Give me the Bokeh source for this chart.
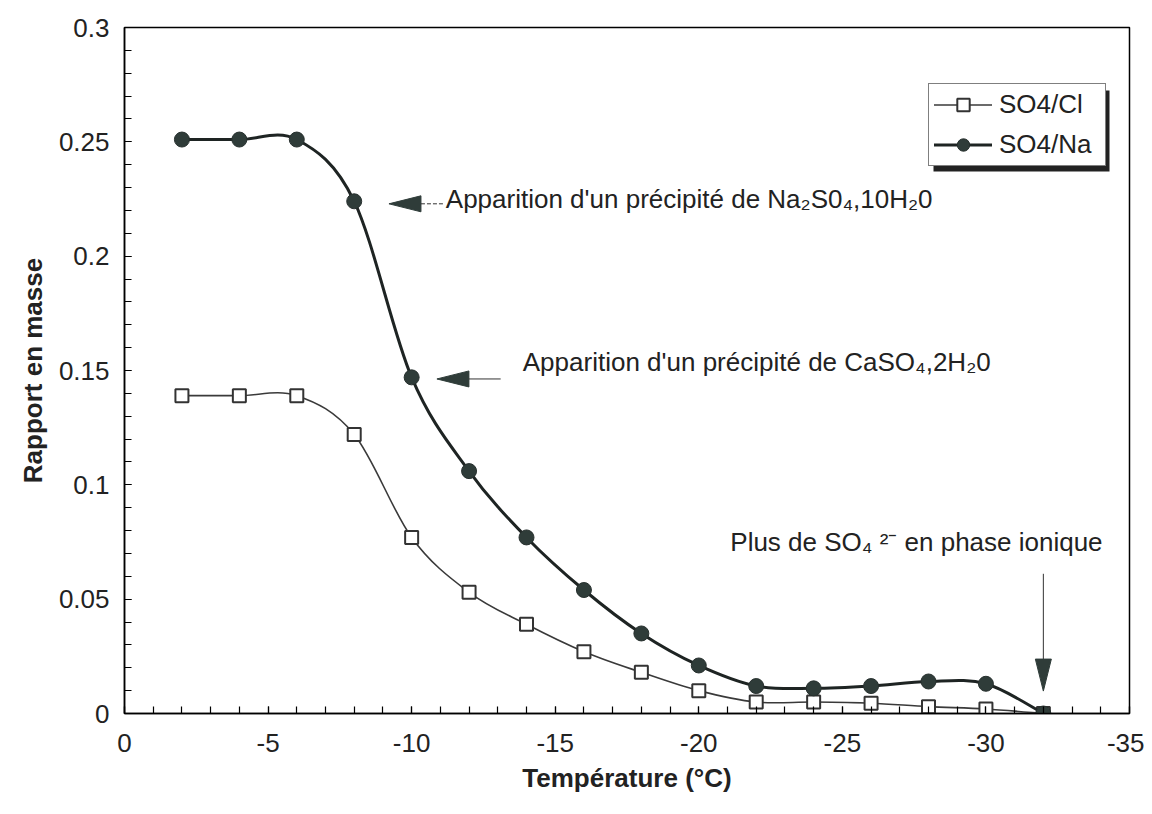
from bokeh.plotting import figure
from bokeh.models import (Range1d, FixedTicker, Legend, LegendItem, Label,
                          BoxAnnotation, ColumnDataSource)
from bokeh.embed import file_html
from bokeh.resources import INLINE

# ---------------- data ----------------
temperature = [-2, -4, -6, -8, -10, -12, -14, -16, -18, -20, -22, -24, -26, -28, -30, -32]
so4_cl = [0.139, 0.139, 0.139, 0.122, 0.077, 0.053, 0.039, 0.027, 0.018, 0.010,
          0.005, 0.005, 0.0045, 0.003, 0.002, 0.0]
so4_na = [0.251, 0.251, 0.251, 0.224, 0.147, 0.106, 0.077, 0.054, 0.035, 0.021,
          0.012, 0.011, 0.012, 0.014, 0.013, 0.0]

x_ticks = [0, -5, -10, -15, -20, -25, -30, -35]
x_tick_labels = ["0", "-5", "-10", "-15", "-20", "-25", "-30", "-35"]
y_ticks = [0, 0.05, 0.1, 0.15, 0.2, 0.25, 0.3]
y_tick_labels = ["0", "0.05", "0.1", "0.15", "0.2", "0.25", "0.3"]

series_names = ["SO4/Cl", "SO4/Na"]
x_title = "Température (°C)"
y_title = "Rapport en masse"
note_na = "Apparition d'un précipité de Na₂S0₄,10H₂0"
note_ca = "Apparition d'un précipité de CaSO₄,2H₂0"
note_so4 = "Plus de SO₄ ²⁻ en phase ionique"

FONT = "Liberation Sans"
TXT = "#222222"
DARK = "#2f3c39"

# ---------------- figure ----------------
p = figure(width=1144, height=806,
           x_range=Range1d(0, -35), y_range=Range1d(0, 0.3),
           output_backend="svg", toolbar_location=None,
           min_border_left=124, min_border_right=15,
           min_border_top=27, min_border_bottom=93)
p.background_fill_color = "white"
p.border_fill_color = "white"
p.outline_line_color = "black"
p.outline_line_width = 1.5
p.xgrid.visible = False
p.ygrid.visible = False

p.xaxis.ticker = FixedTicker(ticks=x_ticks, minor_ticks=list(range(0, -36, -1)))
p.xaxis.major_label_overrides = dict(zip(x_ticks, x_tick_labels))
p.yaxis.ticker = FixedTicker(ticks=y_ticks, minor_ticks=[round(i * 0.01, 2) for i in range(31)])
p.yaxis.major_label_overrides = dict(zip(y_ticks, y_tick_labels))

for ax in (p.xaxis, p.yaxis):
    ax.axis_line_color = "black"
    ax.axis_line_width = 1.5
    ax.major_tick_in = 7
    ax.major_tick_out = 0
    ax.minor_tick_in = 7
    ax.minor_tick_out = 0
    ax.major_tick_line_color = "black"
    ax.minor_tick_line_color = "black"
    ax.major_tick_line_width = 1.2
    ax.minor_tick_line_width = 1.2
    ax.major_label_text_font = FONT
    ax.major_label_text_font_size = "26px"
    ax.major_label_text_color = TXT
    ax.axis_label_text_font = FONT
    ax.axis_label_text_font_size = "26px"
    ax.axis_label_text_font_style = "bold"
    ax.axis_label_text_color = TXT

p.xaxis.axis_label = x_title
p.yaxis.axis_label = y_title
p.xaxis.major_label_standoff = 20
p.xaxis.axis_label_standoff = 8
p.yaxis.major_label_standoff = 15
p.yaxis.axis_label_standoff = 8


# ---------------- smoothed curves (Bezier through data points) ----------------
def smooth_source(xs, ys):
    n = len(xs)
    d = dict(x0=[], y0=[], x1=[], y1=[], cx0=[], cy0=[], cx1=[], cy1=[])
    for i in range(n - 1):
        a = max(i - 1, 0)
        b = min(i + 2, n - 1)
        d["x0"].append(xs[i]); d["y0"].append(ys[i])
        d["x1"].append(xs[i + 1]); d["y1"].append(ys[i + 1])
        d["cx0"].append(xs[i] + (xs[i + 1] - xs[a]) / 6.0)
        d["cy0"].append(ys[i] + (ys[i + 1] - ys[a]) / 6.0)
        d["cx1"].append(xs[i + 1] - (xs[b] - xs[i]) / 6.0)
        d["cy1"].append(ys[i + 1] - (ys[b] - ys[i]) / 6.0)
    return ColumnDataSource(d)


cl_line = p.bezier(x0="x0", y0="y0", x1="x1", y1="y1", cx0="cx0", cy0="cy0",
                   cx1="cx1", cy1="cy1", source=smooth_source(temperature, so4_cl),
                   line_color="#3a3a3a", line_width=1.6, line_cap="round")
cl_pts = p.scatter(temperature, so4_cl, marker="square", size=13,
                   fill_color="white", line_color="#333333", line_width=2)
na_line = p.bezier(x0="x0", y0="y0", x1="x1", y1="y1", cx0="cx0", cy0="cy0",
                   cx1="cx1", cy1="cy1", source=smooth_source(temperature, so4_na),
                   line_color="#1e2423", line_width=3, line_cap="round")
na_pts = p.scatter(temperature, so4_na, marker="circle", size=15,
                   fill_color=DARK, line_color="#27302e", line_width=1)

# ---------------- annotations ----------------
# pixel-size helpers (frame: 1005 px for 35 units, 686 px for 0.3)
PX = 35.0 / 1005.0
PY = 0.3 / 686.0

def head_left(tip_x, tip_y, length_px=32, half_px=8):
    bx = tip_x - length_px * PX
    return [tip_x, bx, bx], [tip_y, tip_y + half_px * PY, tip_y - half_px * PY]

def head_down(tip_x, tip_y, length_px=32, half_px=8):
    by = tip_y + length_px * PY
    return [tip_x, tip_x - half_px * PX, tip_x + half_px * PX], [tip_y, by, by]

# arrow 1 (Na2SO4)
hx, hy = head_left(-9.21, 0.2229)
p.patch(hx, hy, fill_color=DARK, line_color=DARK)
p.line([hx[1], -11.09], [0.2229, 0.2229], line_color="#333333", line_width=1, line_dash="4 2")
p.add_layout(Label(x=-11.19, y=0.2252, text=note_na, text_font=FONT, text_font_size="26px",
                   text_color=TXT, text_align="left", text_baseline="middle"))

# arrow 2 (CaSO4)
hx, hy = head_left(-10.88, 0.1463)
p.patch(hx, hy, fill_color=DARK, line_color=DARK)
p.line([hx[1], -13.10], [0.1463, 0.1463], line_color="#333333", line_width=1)
p.add_layout(Label(x=-13.87, y=0.1537, text=note_ca, text_font=FONT, text_font_size="26px",
                   text_color=TXT, text_align="left", text_baseline="middle"))

# arrow 3 (vertical)
hx, hy = head_down(-32.0, 0.0098)
p.patch(hx, hy, fill_color=DARK, line_color=DARK)
p.line([-32.0, -32.0], [hy[1], 0.0611], line_color="#333333", line_width=1)
p.add_layout(Label(x=-27.58, y=0.0752, text=note_so4, text_font=FONT, text_font_size="26px",
                   text_color=TXT, text_align="center", text_baseline="middle"))

# ---------------- legend with drop shadow ----------------
shadow = BoxAnnotation(left=-(933 - 124) * PX, right=-(1109 - 124) * PX,
                       top=(713 - 90) * PY, bottom=(713 - 171) * PY,
                       fill_color="#222222", fill_alpha=1.0, line_color=None,
                       level="annotation")
p.add_layout(shadow)

legend = Legend(items=[LegendItem(label=series_names[0], renderers=[cl_line, cl_pts]),
                       LegendItem(label=series_names[1], renderers=[na_line, na_pts])],
                location=(804, 547.5), margin=0, padding=5, spacing=9,
                glyph_width=58, glyph_height=31, label_height=31, label_width=101,
                label_standoff=7, label_text_font=FONT, label_text_font_size="26px",
                label_text_color=TXT, border_line_color="black", border_line_width=1.5,
                background_fill_color="white", background_fill_alpha=1.0)
p.add_layout(legend, "center")

open("out.html", "w").write(file_html(p, INLINE))
